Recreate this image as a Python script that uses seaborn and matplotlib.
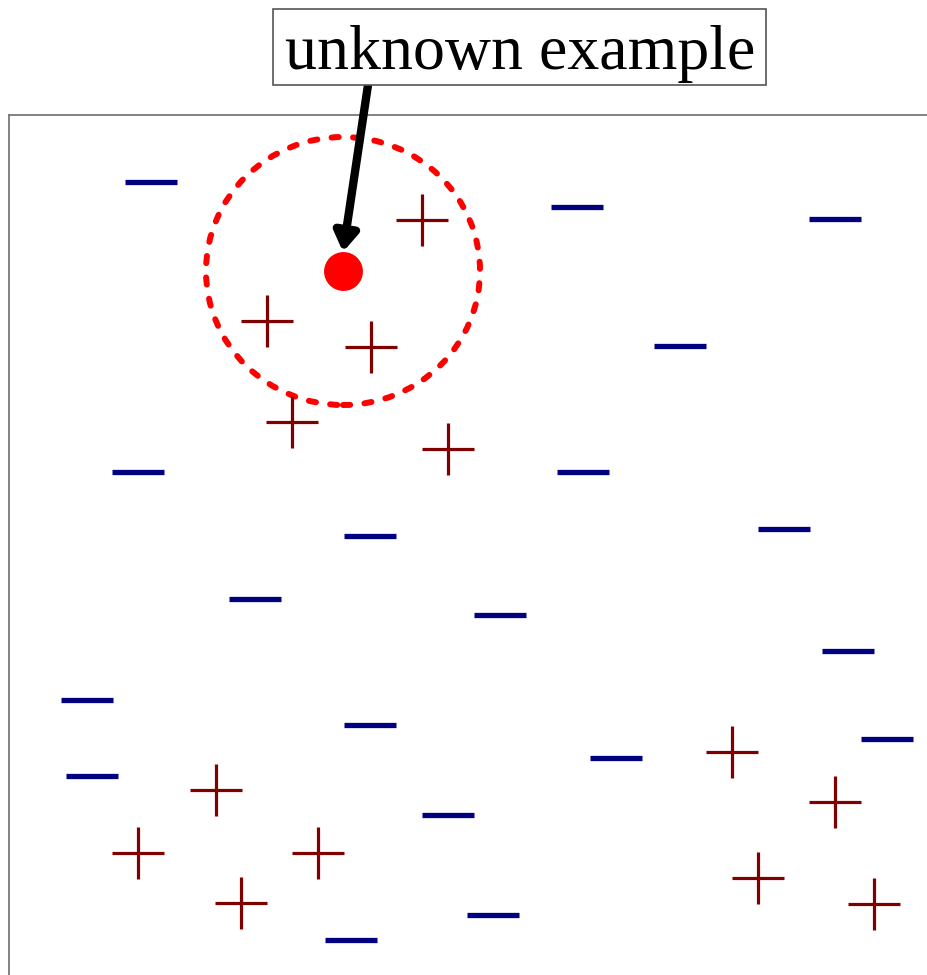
import matplotlib
matplotlib.use('Agg')
import matplotlib.pyplot as plt
from matplotlib.patches import Ellipse, Rectangle
import seaborn as sns
import pandas as pd

# Data: positions of training examples (feature space units)
neg_x = [142, 568, 826, 671, 129, 574, 361, 775, 246, 491, 839, 78, 361, 878, 83, 607, 439, 484, 342]
neg_y = [793, 768, 756, 629, 503, 503, 439, 446, 376, 360, 324, 275, 250, 236, 199, 217, 160, 60, 35]
pos_x = [413, 258, 362, 283, 439, 723, 826, 207, 129, 309, 749, 865, 232]
pos_y = [755, 654, 628, 553, 526, 223, 173, 185, 122, 122, 97, 71, 72]
query_x = [334]
query_y = [704]
radius_x = 137
radius_y = 134

W, H = 927, 975
fig = plt.figure(figsize=(W / 100, H / 100), dpi=100)
sns.set_style('white')
plt.rcParams['font.family'] = ['Liberation Serif', 'DejaVu Serif']

ax = fig.add_axes([9 / W, 0, (W - 9) / W, (H - 115) / H])
ax.set_xlim(0, W - 9)
ax.set_ylim(0, H - 115)

neg = pd.DataFrame({'x': neg_x, 'y': neg_y})
pos = pd.DataFrame({'x': pos_x, 'y': pos_y})
query = pd.DataFrame({'x': query_x, 'y': query_y})

sns.scatterplot(data=neg, x='x', y='y', marker='_', s=37 ** 2, linewidth=3.8,
                color='#000080', edgecolor='#000080', ax=ax, legend=False, zorder=3)
sns.scatterplot(data=pos, x='x', y='y', marker='+', s=37 ** 2, linewidth=2.3,
                color='#800000', edgecolor='#800000', ax=ax, legend=False, zorder=3)
sns.scatterplot(data=query, x='x', y='y', marker='o', s=28 ** 2, linewidth=0,
                color='#ff0000', ax=ax, legend=False, zorder=4)

# neighbourhood circle
circ = Ellipse((query_x[0], query_y[0]), 2 * radius_x, 2 * radius_y, fill=False,
               edgecolor='#ff0000', linewidth=4.3, linestyle=(0, (1.2, 2.4)), zorder=2)
circ.set_capstyle('round')
ax.add_patch(circ)

# label box
def px(x, y):
    return x / W, 1 - y / H

fig.patches.append(Rectangle(px(273, 85), (766 - 273) / W, (85 - 9) / H,
                             transform=fig.transFigure, facecolor='white',
                             edgecolor='#555555', linewidth=1.2, zorder=5))
fig.text(*px(520, 69), 'unknown example', ha='center', va='baseline',
         fontsize=46, color='black', zorder=6)

# arrow from box to query point
ax.annotate('', xy=(query_x[0], query_y[0] + 19), xytext=(359, H - 85),
            annotation_clip=False,
            arrowprops=dict(arrowstyle='-|>,head_length=0.55,head_width=0.35',
                            mutation_scale=20, color='black', lw=6,
                            shrinkA=0, shrinkB=0))

ax.set_xticks([])
ax.set_yticks([])
ax.set_xlabel('')
ax.set_ylabel('')
for side in ['bottom', 'right']:
    ax.spines[side].set_visible(False)
for side in ['left', 'top']:
    ax.spines[side].set_color('#777777')
    ax.spines[side].set_linewidth(1.3)

fig.savefig('out.png', dpi=100)
